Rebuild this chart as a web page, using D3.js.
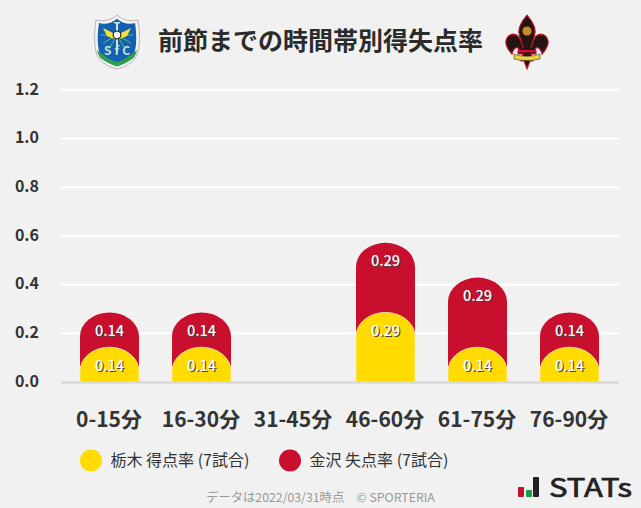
<!DOCTYPE html>
<html><head><meta charset="utf-8">
<script src="https://cdn.jsdelivr.net/npm/d3@7"></script>
<style>
html,body{margin:0;padding:0;background:#f1f1f1;overflow:hidden}
svg{display:block}
text{font-family:"Noto Sans CJK JP","Noto Sans",sans-serif}
</style></head><body><div id="c"></div>
<script>
const categories=["0-15分","16-30分","31-45分","46-60分","61-75分","76-90分"];
const scored=[0.143,0.143,0,0.286,0.143,0.143];
const conceded=[0.143,0.143,0,0.286,0.286,0.143];
const yTicks=[0,0.2,0.4,0.6,0.8,1.0,1.2];
const title="前節までの時間帯別得失点率";
const legendLabels=["栃木 得点率 (7試合)","金沢 失点率 (7試合)"];
const colors=["#ffdb00","#c8102e"];
const footer="データは2022/03/31時点　© SPORTERIA";

const W=641,H=508;
const svg=d3.select("#c").append("svg").attr("width",W).attr("height",H);
svg.append("rect").attr("width",W).attr("height",H).attr("fill","#f1f1f1");
const x=d3.scaleBand().domain(categories).range([63.5,615.5]).paddingInner(0.3587).paddingOuter(0.1793);
const y=d3.scaleLinear().domain([0,1.2]).range([382,90]);

svg.selectAll("line.g").data(yTicks.slice(1)).join("line").attr("class","g")
  .attr("x1",61).attr("x2",619).attr("y1",d=>y(d)).attr("y2",d=>y(d))
  .attr("stroke","#fff").attr("stroke-width",2);

svg.selectAll("text.yl").data(yTicks).join("text").attr("class","yl")
  .attr("x",39).attr("y",d=>y(d)+4.5).attr("text-anchor","end")
  .attr("font-size",16).attr("font-weight",700).attr("fill","#333")
  .text(d=>d.toFixed(1));
svg.selectAll("text.xl").data(categories).join("text").attr("class","xl")
  .attr("x",d=>x(d)+x.bandwidth()/2-0.5).attr("y",427).attr("text-anchor","middle")
  .attr("font-size",21).attr("font-weight",700).attr("fill","#333").text(d=>d);

function bar(xp,w,top,bottom){
  const rx=w/2,ry=Math.min(24,bottom-top);
  return `M${xp},${bottom}V${top+ry}A${rx},${ry} 0 0 1 ${xp+w},${top+ry}V${bottom}Z`;
}
const rows=categories.map((c,i)=>({c,a:scored[i],b:conceded[i]}));
svg.selectAll("path.r").data(rows.filter(d=>d.b>0)).join("path").attr("class","r")
  .attr("fill",colors[1])
  .attr("d",d=>bar(x(d.c),x.bandwidth(),y(d.a+d.b),y(0)));
svg.selectAll("path.y").data(rows.filter(d=>d.a>0)).join("path").attr("class","y")
  .attr("fill",colors[0]).attr("stroke","#fff3b0").attr("stroke-width",0.8)
  .attr("d",d=>bar(x(d.c),x.bandwidth(),y(d.a),y(0)));
svg.append("line").attr("x1",61).attr("x2",619).attr("y1",y(0)+0.5).attr("y2",y(0)+0.5)
  .attr("stroke","#d4d4d4").attr("stroke-width",2);

function label(cls,data,fy,fv){
  [[1,1,"#444"],[0,0,"#fff"]].forEach(([dx,dy,col],k)=>{
    svg.selectAll(`text.${cls}${k}`).data(data).join("text").attr("class",cls+k)
      .attr("x",d=>x(d.c)+x.bandwidth()/2+dx).attr("y",d=>fy(d)+23.5+dy)
      .attr("text-anchor","middle").attr("font-size",14.5).attr("font-weight",500)
      .attr("fill",col).text(d=>fv(d).toFixed(2));
  });
}
label("lr",rows.filter(d=>d.b>0),d=>y(d.a+d.b),d=>d.b);
label("ly",rows.filter(d=>d.a>0),d=>y(d.a),d=>d.a);

svg.append("text").attr("x",320.5).attr("y",50).attr("text-anchor","middle")
  .attr("font-size",25).attr("font-weight",700).attr("fill","#2b2b2b").text(title);

const lx=[91,290];
svg.selectAll("circle.lg").data(legendLabels).join("circle").attr("class","lg")
  .attr("cx",(d,i)=>lx[i]).attr("cy",460.5).attr("r",11).attr("fill",(d,i)=>colors[i]);
svg.selectAll("text.lg").data(legendLabels).join("text").attr("class","lg")
  .attr("x",(d,i)=>lx[i]+19.5).attr("y",466).attr("font-size",16).attr("fill","#333").text(d=>d);
svg.append("text").attr("x",320.5).attr("y",502).attr("text-anchor","middle")
  .attr("font-size",12.3).attr("fill","#999").text(footer);

// STATs mark
const st=svg.append("g");
[[518,487,6,10,"#c8102e"],[526,490,6,7,"#1a9a4a"],[533,477,6,20,"#222"]].forEach(a=>{
  st.append("rect").attr("x",a[0]).attr("y",a[1]).attr("width",a[2]).attr("height",a[3]).attr("rx",1).attr("fill",a[4]);
});
st.append("text").attr("x",549).attr("y",497).attr("font-size",26).attr("font-weight",400)
  .attr("font-family","'DejaVu Sans'").attr("fill","#222").attr("stroke","#222").attr("stroke-width",.7)
  .attr("textLength",83).attr("lengthAdjust","spacingAndGlyphs").text("STATs");

// Tochigi crest
const t=svg.append("g").attr("transform","translate(117,42)");
const shield="M0,-27C5,-22 14,-20 21,-22C23,-8 23,5 20,13C16,21 8,25 0,27C-8,25 -16,21 -20,13C-23,5 -23,-8 -21,-22C-14,-20 -5,-22 0,-27Z";
t.append("path").attr("d",shield).attr("fill","#f4f4f4").attr("stroke","#b5b5b5").attr("stroke-width",1);
t.append("path").attr("d",shield).attr("transform","scale(.86)").attr("fill","#1560b0");
[-60,-30,0,30,60,-90,90].forEach(a=>{
  t.append("line").attr("x1",0).attr("y1",-7).attr("x2",Math.sin(a*Math.PI/180)*16).attr("y2",-7+Math.cos(a*Math.PI/180)*16)
   .attr("stroke","#4fc07a").attr("stroke-width",1);
});
t.append("path").attr("d","M-20,8C-12,15 -6,18 0,20C6,18 12,15 20,8C19,13 17,16 15,17C9,21 5,23 0,24.5C-5,23 -9,21 -15,17C-17,16 -19,13 -20,8Z").attr("fill","#2f9e4f");
t.append("path").attr("d","M-14,-14L-2,-8L-3,-3L-10,-6ZM14,-14L2,-8L3,-3L10,-6Z").attr("fill","#f3e33a");
t.append("rect").attr("x",-1).attr("y",-20).attr("width",2).attr("height",30).attr("fill","#cfe6d8");
t.append("rect").attr("x",-3).attr("y",-20).attr("width",6).attr("height",1.5).attr("fill","#cfe6d8");
t.append("circle").attr("cy",-7).attr("r",3.8).attr("fill","#fff").attr("stroke","#333").attr("stroke-width",1.3);
t.append("text").attr("y",13).attr("text-anchor","middle").attr("font-size",12).attr("font-weight",700)
  .attr("fill","#bfe7d0").attr("textLength",26).text("SfC");

// Kanazawa crest
const k=svg.append("g").attr("transform","translate(527,42)");
const fleur="M0,-27C5,-21 9,-15 8,-9C7,-3 5,1 4,6C5,2 6,-3 9,-6C14,-10 20,-7 21,-1C22,3 18,9 15,12C14,8 12,5 9,6C8,7 8,8 9,9L9,12L4,12L6,19L3,19L0,27L-3,19L-6,19L-4,12L-9,12L-9,9C-8,8 -8,7 -9,6C-12,5 -14,8 -15,12C-18,9 -22,3 -21,-1C-20,-7 -14,-10 -9,-6C-6,-3 -5,2 -4,6C-5,1 -7,-3 -8,-9C-9,-15 -5,-21 0,-27Z";
k.append("path").attr("d",fleur).attr("fill","#241513").attr("stroke","#d0122e").attr("stroke-width",1.1);
k.append("circle").attr("cy",-11).attr("r",4.6).attr("fill","#c58a2a");
k.append("rect").attr("x",-9).attr("y",8).attr("width",18).attr("height",2.5).attr("fill","#c8102e");
k.append("path").attr("d","M-13,12C-6,15 6,15 13,12L13,17C6,19 -6,19 -13,17Z").attr("fill","#ecd23a").attr("stroke","#222").attr("stroke-width",.5);
</script></body></html>
